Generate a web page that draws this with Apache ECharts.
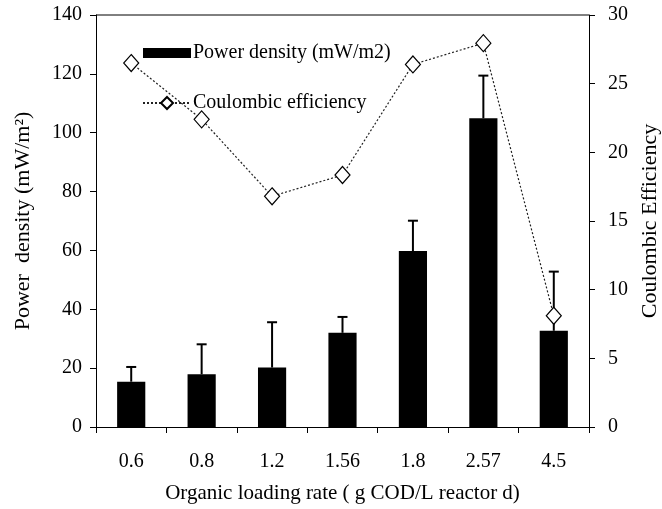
<!DOCTYPE html>
<html><head><meta charset="utf-8">
<script src="https://cdn.jsdelivr.net/npm/echarts@6/dist/echarts.min.js"></script>
<style>html,body{margin:0;padding:0;background:#fff}#c{width:662px;height:509px}</style>
</head><body><div id="c"></div>
<script>
const categories = ['0.6','0.8','1.2','1.56','1.8','2.57','4.5'];
const powerDensity = [15.4, 17.9, 20.2, 32.0, 59.8, 104.9, 32.7];
const powerUpper = [20.4, 28.1, 35.6, 37.4, 70.1, 119.4, 52.8];
const coulombic = [26.5, 22.4, 16.8, 18.35, 26.4, 27.95, 8.1];
const leftTicks = [0, 140, 20];
const rightTicks = [0, 30, 5];

const font = 'Liberation Serif';
const chart = echarts.init(document.getElementById('c'));
const errData = categories.map((c, i) => [i, powerDensity[i], powerUpper[i]]);
chart.setOption({
  animation: false,
  textStyle: {fontFamily: font},
  grid: {left: 96, right: 73, top: 15, bottom: 82, containLabel: false, outerBoundsMode: 'none'},
  legend: {
    orient: 'vertical', left: 137, top: 38, itemGap: 30,
    itemWidth: 48, itemHeight: 15,
    textStyle: {fontFamily: font, fontSize: 20, color: '#000', padding: [0,0,0,-3]},
    data: [
      {name: 'Power density (mW/m2)', icon: 'path://M0,0 M0,2.5 L48,2.5 L48,12.5 L0,12.5 Z M48,15'},
      {name: 'Coulombic efficiency'}
    ]
  },
  xAxis: {
    type: 'category', data: categories,
    axisLine: {lineStyle: {color: '#000', width: 1}},
    axisTick: {show: true, length: 6, lineStyle: {color: '#000'}},
    axisLabel: {color: '#000', fontSize: 20, margin: 25},
    name: 'Organic loading rate ( g COD/L reactor d)',
    nameLocation: 'middle', nameGap: 56,
    nameTextStyle: {color: '#000', fontSize: 21, fontFamily: font}
  },
  yAxis: [
    {
      type: 'value', min: leftTicks[0], max: leftTicks[1], interval: leftTicks[2],
      axisLine: {show: true, lineStyle: {color: '#000'}},
      axisTick: {show: true, length: 6, lineStyle: {color: '#000'}},
      axisLabel: {color: '#000', fontSize: 20, margin: 14},
      splitLine: {show: false},
      name: 'Power  density (mW/m²)', nameLocation: 'middle', nameGap: 62,
      nameTextStyle: {color: '#000', fontSize: 22, fontFamily: font}
    },
    {
      type: 'value', min: rightTicks[0], max: rightTicks[1], interval: rightTicks[2],
      position: 'right',
      axisLine: {show: true, lineStyle: {color: '#000'}},
      axisTick: {show: true, length: 6, lineStyle: {color: '#000'}},
      axisLabel: {color: '#000', fontSize: 20, margin: 19},
      splitLine: {show: false},
      name: 'Coulombic Efficiency', nameLocation: 'middle', nameGap: 50,
      nameRotate: 90,
      nameTextStyle: {color: '#000', fontSize: 22, fontFamily: font}
    }
  ],
  graphic: [{type: 'line', shape: {x1: 96, y1: 15, x2: 589, y2: 15}, style: {stroke: '#000', lineWidth: 1}}],
  series: [
    {
      name: 'Power density (mW/m2)', type: 'bar', data: powerDensity,
      barWidth: '40%', itemStyle: {color: '#000'}, yAxisIndex: 0
    },
    {
      type: 'custom', yAxisIndex: 0, data: errData, z: 3,
      renderItem: function (params, api) {
        const x = api.value(0);
        const lo = api.coord([x, api.value(1)]);
        const hi = api.coord([x, api.value(2)]);
        const hw = 5;
        return {type: 'group', children: [
          {type: 'line', shape: {x1: lo[0], y1: lo[1], x2: hi[0], y2: hi[1]}, style: {stroke: '#000', lineWidth: 2}},
          {type: 'line', shape: {x1: hi[0]-hw, y1: hi[1], x2: hi[0]+hw, y2: hi[1]}, style: {stroke: '#000', lineWidth: 2}}
        ]};
      }
    },
    {
      name: 'Coulombic efficiency', type: 'line', yAxisIndex: 1, data: coulombic,
      symbol: 'diamond', symbolSize: [15, 17],
      lineStyle: {color: '#222', width: 1.2, type: [2, 2]},
      itemStyle: {color: '#fff', borderColor: '#000', borderWidth: 1.2},
      z: 5
    }
  ]
});
</script></body></html>
